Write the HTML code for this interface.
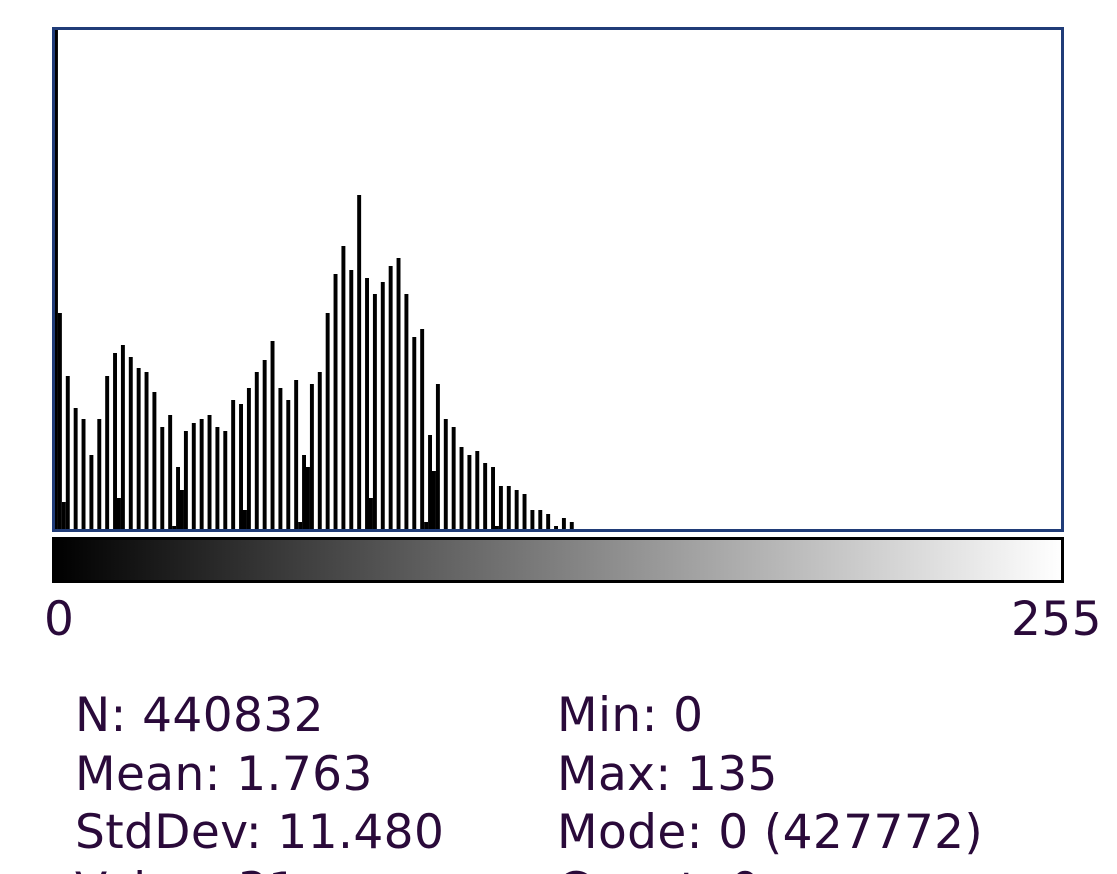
<!DOCTYPE html>
<html style="width:1117px;height:874px;overflow:hidden;margin:0"><head><meta charset="utf-8"><style>
body{margin:0;width:1117px;height:874px;overflow:hidden;background:#fff;position:relative;font-family:"DejaVu Sans","Liberation Sans",sans-serif;}
.t{position:absolute;font-size:47px;color:#2a0a3a;white-space:pre;line-height:1;letter-spacing:0.4px}
#clip{position:absolute;left:0;top:0;width:1117px;height:874px;overflow:hidden}
</style></head><body>
<div id="clip">
<svg width="1117" height="874" style="position:absolute;left:0;top:0">
<defs><linearGradient id="g" x1="0" x2="1"><stop offset="0" stop-color="#000"/><stop offset="1" stop-color="#fff"/></linearGradient></defs>
<g id="bars"></g>
<rect x="53.5" y="28.5" width="1009" height="502" fill="none" stroke="#203c78" stroke-width="3"/>
<rect x="53.5" y="538.5" width="1009" height="43" fill="url(#g)" stroke="#000" stroke-width="3"/>
</svg>
<div class="t" style="left:44px;top:596px">0</div>
<div class="t" style="left:1011px;top:596px">255</div>
<div class="t" style="left:75px;top:692px">N: 440832</div>
<div class="t" style="left:75px;top:751px">Mean: 1.763</div>
<div class="t" style="left:75px;top:809px">StdDev: 11.480</div>
<div class="t" style="left:75px;top:867px">Value: 31</div>
<div class="t" style="left:557px;top:692px">Min: 0</div>
<div class="t" style="left:557px;top:751px">Max: 135</div>
<div class="t" style="left:557px;top:809px">Mode: 0 (427772)</div>
<div class="t" style="left:557px;top:867px">Count: 0</div>
</div>
<script>
const bins=[0,1,2,3,5,7,9,11,13,15,16,17,19,21,23,25,27,29,30,31,32,33,35,37,39,41,43,45,47,48,49,51,53,55,57,59,61,62,63,64,65,67,69,71,73,75,77,79,80,81,83,85,87,89,91,93,94,95,96,97,99,101,103,105,107,109,111,112,113,115,117,119,121,123,125,127,129,131];
const counts=[501,216,27,153,121,110,74,110,153,176,31,184,172,161,157,137,102,114,3,62,39,98,106,110,114,102,98,129,125,19,141,157,169,188,141,129,149,7,74,62,145,157,216,255,283,259,334,251,31,235,247,263,271,235,192,200,7,94,58,145,110,102,82,74,78,66,62,3,43,43,39,35,19,19,15,3,11,7];
const yMax=501;
const x0=54,xW=1008,yB=529,yH=501;
const xs=b=>x0+b*xW/256;
const ys=v=>yB-Math.min(v,yMax)/yMax*yH;
const g=document.getElementById('bars');
bins.forEach((b,i)=>{
 const r=document.createElementNS('http://www.w3.org/2000/svg','rect');
 
 
 const y=ys(counts[i]);
 r.setAttribute('x',xs(b));r.setAttribute('width',xW/256);
 r.setAttribute('y',y);r.setAttribute('height',yB-y);
 r.setAttribute('fill','#000');
 g.appendChild(r);
});
</script>
</body></html>
